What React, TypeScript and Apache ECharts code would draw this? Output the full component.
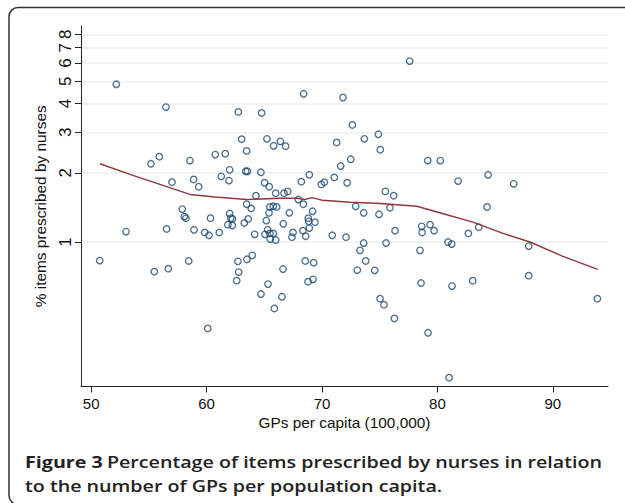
import React, { useEffect, useRef } from "react";
import * as echarts from "echarts";

// GPs per capita (100,000) for each practice / area
const gpsPerCapita = [
  52.18, 56.48, 62.75, 64.77, 68.41, 71.82, 72.63, 63.04, 65.23, 65.81, 66.39, 66.85, 63.47, 71.27,
  55.18, 55.9, 58.56, 60.75, 61.62, 71.62, 72.49,
  62.0, 63.39, 63.54, 64.71, 61.27, 61.94, 58.88, 59.32, 57.0, 65.03, 65.43, 68.21, 68.9, 69.94, 70.2, 71.07, 72.18,
  64.28, 65.99, 66.71, 67.03, 67.95, 68.38, 63.47, 63.87, 65.49, 65.78, 66.07,
  65.41, 67.17, 69.19, 57.89, 58.07, 58.21, 62.0, 60.34, 62.09, 62.24, 63.61, 65.17, 68.81, 69.39, 68.85,
  77.6, 73.67, 74.88, 75.05, 79.16, 80.25, 81.79, 84.39, 86.61, 75.49, 76.21, 72.92, 73.61, 74.94, 75.89, 84.3,
  53.02, 56.54, 58.91, 59.84, 60.21, 61.1, 61.85, 62.23, 63.27, 64.17, 65.06, 65.29, 65.49, 65.78, 65.51, 65.99,
  66.65, 67.49, 67.4, 68.35, 68.59, 68.9, 70.89, 72.08,
  50.74, 55.47, 56.68, 58.45, 62.72, 63.5, 63.96, 62.78, 62.61, 65.32, 66.62, 68.55, 69.28, 68.79, 69.22, 64.71,
  66.53, 65.87, 60.1,
  76.33, 78.64, 78.67, 79.36, 79.71, 82.68, 83.58, 73.61, 75.55, 80.92, 81.24, 87.91, 73.29, 78.49, 73.79, 73.06,
  74.57, 78.58, 81.27, 83.06, 87.91, 75.03, 75.37, 76.27, 79.19, 81.01, 93.86,
];

// % items prescribed by nurses
const pctByNurses = [
  4.85, 3.86, 3.68, 3.64, 4.41, 4.25, 3.23, 2.8, 2.81, 2.62, 2.74, 2.61, 2.49, 2.71,
  2.19, 2.35, 2.26, 2.4, 2.42, 2.14, 2.29,
  2.06, 2.03, 2.03, 2.01, 1.93, 1.85, 1.87, 1.74, 1.82, 1.81, 1.74, 1.83, 1.96, 1.78, 1.82, 1.91, 1.81,
  1.59, 1.63, 1.63, 1.66, 1.53, 1.46, 1.46, 1.4, 1.42, 1.43, 1.42,
  1.34, 1.34, 1.36, 1.39, 1.29, 1.27, 1.33, 1.27, 1.27, 1.26, 1.26, 1.24, 1.27, 1.22, 1.23,
  6.12, 2.81, 2.94, 2.52, 2.26, 2.26, 1.84, 1.96, 1.79, 1.66, 1.59, 1.43, 1.34, 1.32, 1.41, 1.42,
  1.11, 1.14, 1.13, 1.1, 1.07, 1.1, 1.19, 1.18, 1.21, 1.08, 1.08, 1.13, 1.09, 1.09, 1.03, 1.02,
  1.2, 1.1, 1.05, 1.12, 1.06, 1.15, 1.07, 1.05,
  0.83, 0.743, 0.766, 0.827, 0.824, 0.841, 0.875, 0.74, 0.679, 0.656, 0.763, 0.827, 0.813, 0.672, 0.688, 0.594,
  0.578, 0.514, 0.421,
  1.12, 1.17, 1.1, 1.19, 1.12, 1.09, 1.16, 0.99, 0.99, 1.0, 0.98, 0.96, 0.92, 0.92, 0.827, 0.755,
  0.753, 0.663, 0.643, 0.679, 0.714, 0.567, 0.534, 0.465, 0.403, 0.257, 0.567,
];

// LOWESS smoother
const lowessX = [50.77, 53.36, 55.96, 58.56, 60.73, 63.47, 66.36, 67.83, 68.53, 69.13, 70.0, 72.43, 75.03, 78.23, 79.97, 83.08, 85.68, 88.02, 90.88, 93.89];
const lowessY = [2.19, 1.97, 1.78, 1.61, 1.57, 1.53, 1.55, 1.55, 1.53, 1.56, 1.52, 1.49, 1.47, 1.43, 1.35, 1.22, 1.09, 1.0, 0.866, 0.76];

const yTicks = [1, 2, 3, 4, 5, 6, 7, 8];
const xTicks = [50, 60, 70, 80, 90];

const xTitle = "GPs per capita (100,000)";
const yTitle = "% items prescribed by nurses";
const captionBold = "Figure 3";
const captionLine1 = "Percentage of items prescribed by nurses in relation";
const captionLine2 = "to the number of GPs per population capita.";

export default function App() {
  const ref = useRef<HTMLDivElement>(null);

  useEffect(() => {
    if (!ref.current) return;
    const chart = echarts.init(ref.current, null, { renderer: "svg" });
    const lg = (v: number) => Math.log10(v);
    const yTickLogs = yTicks.map(lg);
    const axisFont = "Liberation Sans";
    const capFont = "Open Sans";

    chart.setOption({
      animation: false,
      backgroundColor: "#ffffff",
      grid: { left: 81, right: 17, top: 26, bottom: 116.5, containLabel: false },
      xAxis: {
        type: "value",
        min: 49.12,
        max: 94.78,
        name: xTitle,
        nameLocation: "middle",
        nameGap: 28,
        nameTextStyle: { color: "#111", fontSize: 15.4, fontFamily: axisFont },
        axisLine: { show: true, onZero: false, lineStyle: { color: "#222", width: 1 } },
        axisTick: { show: true, length: 6, lineStyle: { color: "#222", width: 1 }, customValues: xTicks },
        axisLabel: { color: "#111", fontSize: 15, fontFamily: axisFont, margin: 9, customValues: xTicks },
        splitLine: { show: false },
      },
      yAxis: {
        type: "value",
        min: -0.6283,
        max: 0.9393,
        name: yTitle,
        nameLocation: "middle",
        nameGap: 33,
        nameTextStyle: { color: "#111", fontSize: 15.4, fontFamily: axisFont },
        axisLine: { show: true, onZero: false, lineStyle: { color: "#222", width: 1 } },
        axisTick: { show: true, length: 6, lineStyle: { color: "#222", width: 1 }, customValues: yTickLogs },
        axisLabel: {
          color: "#111",
          fontSize: 17,
          fontFamily: axisFont,
          rotate: 90,
          margin: 7,
          customValues: yTickLogs,
          formatter: (v: number) => String(Math.round(Math.pow(10, v))),
        },
        splitLine: { show: true, lineStyle: { color: "#eaf1f3", width: 1.6 } },
      },
      series: [
        {
          type: "scatter",
          data: gpsPerCapita.map((x, i) => [x, lg(pctByNurses[i])]),
          symbol: "circle",
          symbolSize: 6.5,
          itemStyle: { color: "rgba(255,255,255,0)", borderColor: "#1a476f", borderWidth: 1.3 },
          z: 2,
        },
        {
          type: "line",
          data: lowessX.map((x, i) => [x, lg(lowessY[i])]),
          symbol: "none",
          smooth: false,
          lineStyle: { color: "#90353b", width: 1.4 },
          z: 3,
        },
      ],
      graphic: [
        {
          type: "rect",
          shape: { x: 9, y: 7.5, width: 700, height: 497, r: 9 },
          style: { fill: "none", stroke: "#333", lineWidth: 1.5 },
          silent: true,
        },
        {
          type: "text",
          x: 25,
          y: 462,
          scaleX: 1.23,
          style: {
            text: `{b|${captionBold}} {s|${captionLine1}}`,
            verticalAlign: "middle",
            rich: {
              b: { fontFamily: capFont, fontWeight: 700, fontSize: 16, fill: "#222" },
              s: { fontFamily: capFont, fontWeight: 600, fontSize: 16, fill: "#222" },
            },
          },
        },
        {
          type: "text",
          x: 25,
          y: 486,
          scaleX: 1.23,
          style: {
            text: `{s|${captionLine2}}`,
            verticalAlign: "middle",
            rich: {
              s: { fontFamily: capFont, fontWeight: 600, fontSize: 16, fill: "#222" },
            },
          },
        },
      ],
    });

    return () => chart.dispose();
  }, []);

  return (
    <div
      ref={ref}
      style={{ position: "absolute", left: 0, top: 0, width: 625, height: 503, background: "#fff" }}
    />
  );
}
